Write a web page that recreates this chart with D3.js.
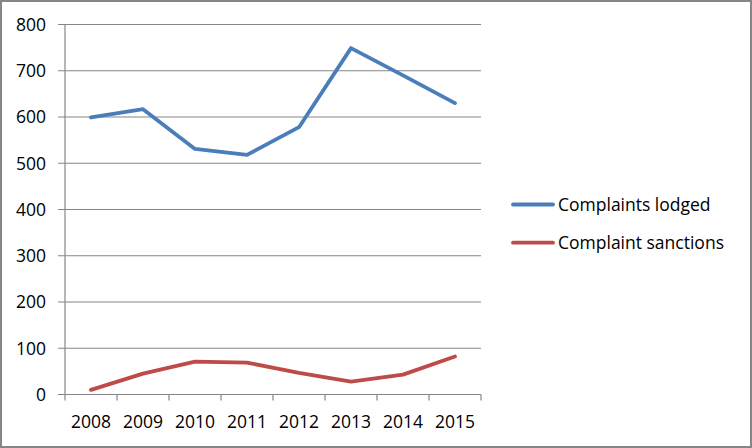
<!DOCTYPE html>
<html><head><meta charset="utf-8">
<script src="https://cdn.jsdelivr.net/npm/d3@7"></script>
<style>body{margin:0;background:#fff}svg{display:block}text{font-family:"Open Sans","Noto Sans",sans-serif}</style>
</head><body><svg id="c" width="752" height="448"></svg>
<script>
const years = ["2008","2009","2010","2011","2012","2013","2014","2015"];
const lodged = [599, 617, 531, 518, 578, 749, 690, 630];
const sanctions = [10, 45, 71, 69, 47, 28, 43, 82];
const yTicks = [0,100,200,300,400,500,600,700,800];
const seriesNames = ["Complaints lodged","Complaint sanctions"];
const colors = ["#4a7ebb","#be4b48"];

const svg = d3.select("#c");
svg.append("rect").attr("x",1).attr("y",1).attr("width",750).attr("height",446)
  .attr("fill","#fff").attr("stroke","#868686").attr("stroke-width",2);

const x = d3.scaleBand().domain(years).range([65,481]);
const y = d3.scaleLinear().domain([0,800]).range([394.5,24.5]);

const g = svg.append("g");
g.selectAll(".grid").data(yTicks).join("line")
  .attr("x1",58).attr("x2",481).attr("y1",d=>y(d)).attr("y2",d=>y(d))
  .attr("stroke","#868686").attr("stroke-width",1.2);
g.append("line").attr("x1",65).attr("x2",65).attr("y1",y(800)).attr("y2",y(0))
  .attr("stroke","#868686").attr("stroke-width",1.2);
const xt = years.map(d=>x(d)).concat([481]);
g.selectAll(".xt").data(xt).join("line")
  .attr("x1",d=>d).attr("x2",d=>d).attr("y1",y(0)).attr("y2",y(0)+6)
  .attr("stroke","#868686").attr("stroke-width",1.2);
g.selectAll(".yl").data(yTicks).join("text")
  .attr("x",46).attr("y",d=>y(d)).attr("dy","0.36em").attr("text-anchor","end")
  .attr("font-size",17.5).attr("fill","#000").text(d=>d);
g.selectAll(".xl").data(years).join("text")
  .attr("x",d=>x(d)+x.bandwidth()/2).attr("y",y(0)+33.5).attr("text-anchor","middle")
  .attr("font-size",17.5).attr("fill","#000").text(d=>d);

const line = d3.line().x((d,i)=>x(years[i])+x.bandwidth()/2).y(d=>y(d));
[lodged,sanctions].forEach((s,i)=>{
  g.append("path").datum(s).attr("d",line).attr("fill","none")
    .attr("stroke",colors[i]).attr("stroke-width",3.8)
    .attr("stroke-linejoin","round").attr("stroke-linecap","round");
});
const lg = svg.append("g");
seriesNames.forEach((n,i)=>{
  const ly = 204.5 + i*38.2;
  lg.append("line").attr("x1",513).attr("x2",553).attr("y1",ly).attr("y2",ly)
    .attr("stroke",colors[i]).attr("stroke-width",3.8).attr("stroke-linecap","round");
  lg.append("text").attr("x",558).attr("y",ly).attr("dy","0.36em")
    .attr("font-size",17.5).attr("fill","#000").text(n);
});
</script></body></html>
